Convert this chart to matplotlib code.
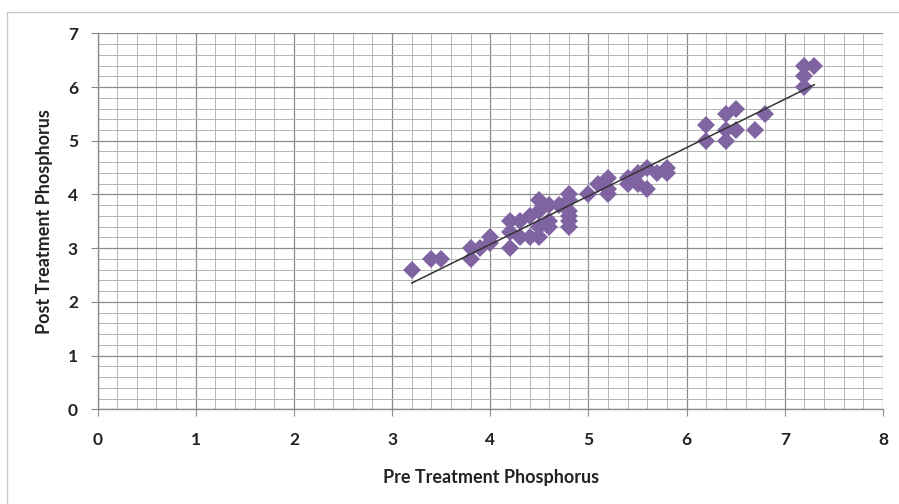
import numpy as np
import matplotlib
matplotlib.use("Agg")
import matplotlib.pyplot as plt
from matplotlib.ticker import MultipleLocator
from matplotlib.patches import Rectangle

pre = [3.2, 3.4, 3.5, 3.8, 3.8, 3.9, 4.0, 4.0,
       4.2, 4.2, 4.2, 4.3, 4.3, 4.4, 4.4, 4.5, 4.5, 4.5, 4.5,
       4.6, 4.6, 4.6, 4.7, 4.8, 4.8, 4.8, 4.8, 4.8, 4.8,
       5.0, 5.1, 5.2, 5.2, 5.2, 5.4, 5.4, 5.5, 5.5, 5.6, 5.6,
       5.7, 5.8, 5.8, 6.2, 6.2, 6.4, 6.4, 6.4, 6.5, 6.5, 6.7, 6.8,
       7.2, 7.2, 7.2, 7.3]
post = [2.6, 2.8, 2.8, 3.0, 2.8, 3.0, 3.2, 3.1,
        3.5, 3.0, 3.3, 3.5, 3.2, 3.6, 3.2, 3.9, 3.7, 3.4, 3.2,
        3.8, 3.5, 3.4, 3.8, 4.0, 3.9, 3.7, 3.6, 3.5, 3.4,
        4.0, 4.2, 4.3, 4.1, 4.0, 4.3, 4.2, 4.4, 4.2, 4.5, 4.1,
        4.4, 4.5, 4.4, 5.3, 5.0, 5.5, 5.2, 5.0, 5.6, 5.2, 5.2, 5.5,
        6.4, 6.2, 6.0, 6.4]

x_label = "Pre Treatment Phosphorus"
y_label = "Post Treatment Phosphorus"

fig = plt.figure(figsize=(8.99, 5.04), dpi=100)
fig.patch.set_facecolor("white")
fig.add_artist(Rectangle((7/899, -0.1), 1.2, 1 - 12/504 + 0.1, transform=fig.transFigure,
                         fill=False, edgecolor="#c8c8c8", linewidth=1.0))

ax = fig.add_axes([97.5/899, 1 - 409.3/504, (883 - 97.5)/899, (409.3 - 33.3)/504])
ax.set_xlim(0, 8)
ax.set_ylim(0, 7)
ax.xaxis.set_major_locator(MultipleLocator(1))
ax.yaxis.set_major_locator(MultipleLocator(1))
ax.xaxis.set_minor_locator(MultipleLocator(0.2))
ax.yaxis.set_minor_locator(MultipleLocator(0.2))
ax.grid(which="major", color="#8c8c8c", linewidth=0.9)
ax.grid(which="minor", color="#b4b4b4", linewidth=0.7)
ax.set_axisbelow(True)
for s in ["top", "right"]:
    ax.spines[s].set_visible(False)
for s in ["left", "bottom"]:
    ax.spines[s].set_color("#8c8c8c")
    ax.spines[s].set_linewidth(1.0)

ax.tick_params(which="minor", length=0)
ax.tick_params(which="major", length=5, color="#8c8c8c", labelsize=12.5)
ax.tick_params(axis="x", pad=11)
ax.tick_params(axis="y", pad=9)
for lab in ax.get_xticklabels() + ax.get_yticklabels():
    lab.set_fontfamily("Lato")
    lab.set_fontweight("bold")
    lab.set_color("#222222")

ax.plot(pre, post, linestyle="none", marker="D", markersize=9,
        color="#8064A2", markeredgewidth=0, zorder=3)

coef = np.polyfit(pre, post, 1)
xs = np.array([min(pre), max(pre)])
ax.plot(xs, np.polyval(coef, xs), color="#333333", linewidth=1.1, zorder=4)

fig.text(491/899, 1 - 477/504, x_label, ha="center", va="center",
         fontsize=13, fontweight="bold", family="Lato", color="#222222")
fig.text(45/899, 1 - 222/504, y_label, ha="center", va="center", rotation=90,
         fontsize=13, fontweight="bold", family="Lato", color="#222222")

fig.savefig("out.png", dpi=100)
